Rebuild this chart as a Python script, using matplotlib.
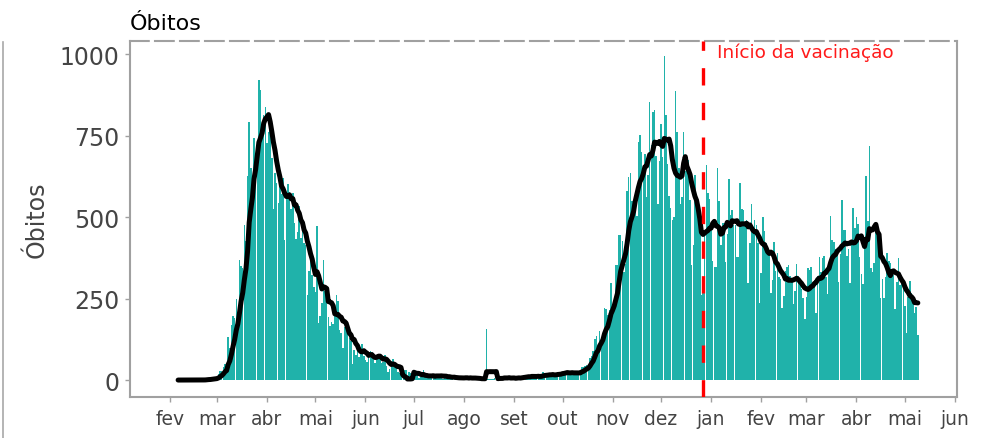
import numpy as np
import pandas as pd
import matplotlib
matplotlib.use("Agg")
import matplotlib.pyplot as plt
import matplotlib.dates as mdates
from matplotlib.lines import Line2D

# ---------------- data (daily deaths) ----------------
start_date = "2020-01-31"
jan_2020 = [0]
feb_2020 = [0, 0, 0, 0, 0, 0, 0, 0, 0, 0, 0, 0, 0, 0, 0, 0, 0, 0, 0, 0,
            1, 1, 1, 4, 3, 2, 5, 4, 8]
mar_2020 = [5, 18, 27, 28, 41, 49, 36, 133, 97, 168, 196, 189, 250, 175, 368, 349,
            345, 475, 427, 627, 793, 651, 601, 743, 683, 712, 919, 889, 756, 812, 837]
apr_2020 = [727, 760, 766, 681, 525, 636, 604, 542, 610, 570, 619, 431, 566, 602, 578,
            525, 575, 482, 433, 454, 534, 437, 464, 420, 415, 260, 333, 382, 323, 285]
may_2020 = [269, 474, 174, 195, 236, 369, 274, 243, 194, 165, 179, 172, 195, 262, 242,
            153, 145, 99, 162, 161, 156, 130, 119, 50, 92, 78, 117, 70, 87, 111, 75]
jun_2020 = [60, 55, 71, 88, 85, 72, 53, 65, 79, 71, 53, 56, 78, 44, 26, 34, 43, 66, 47,
            49, 24, 23, 18, -110, 30, 30, 8, 24, 23, 23]
jul_2020 = [30, 15, 21, 7, 8, 8, 30, 12, 12, 12, 7, 7, 13, 17, 20, 11, 13, 9, 3, 12,
            15, 9, 11, 5, 5, 5, 5, 11, 6, 10, 3]
aug_2020 = [5, 8, 5, 6, 10, 6, 4, 4, 6, 2, 3, 4, 6, 3, 156, 4, 4, 2, 4, 6, 6, 4, 8, 4,
            4, 13, 5, 7, 9, 1, 6]
sep_2020 = [4, 6, 10, 10, 6, 7, 14, 10, 10, 14, 10, 13, 7, 14, 9, 14, 10, 12, 24, 15,
            17, 14, 20, 11, 17, 17, 16, 24, 17, 24]
oct_2020 = [23, 22, 27, 24, 18, 16, 28, 19, 22, 28, 24, 16, 39, 41, 43, 47, 47, 69, 73,
            89, 127, 136, 91, 151, 128, 141, 221, 217, 199, 216, 297]
nov_2020 = [208, 233, 353, 352, 445, 446, 425, 331, 356, 580, 623, 636, 550, 544, 546,
            504, 731, 753, 699, 653, 692, 562, 630, 853, 722, 822, 827, 686, 541, 672]
dec_2020 = [785, 684, 993, 814, 662, 564, 528, 491, 499, 887, 761, 649, 540, 560, 760,
            640, 683, 674, 553, 352, 415, 628, 553, 505, 459, 261, 305, 445, 659, 575, 555]
jan_2021 = [462, 364, 347, 348, 649, 548, 414, 483, 483, 361, 448, 616, 507, 522, 477,
            475, 377, 377, 603, 524, 521, 472, 492, 299, 420, 541, 467, 492, 477, 421, 237]
feb_2021 = [329, 499, 456, 421, 391, 385, 266, 307, 422, 336, 391, 316, 311, 221, 258,
            336, 347, 353, 318, 307, 232, 274, 356, 318, 308, 280, 253, 188]
mar_2021 = [255, 343, 339, 347, 297, 307, 207, 318, 376, 332, 373, 380, 317, 264, 354,
            502, 431, 423, 401, 386, 300, 386, 551, 460, 460, 380, 401, 297, 417, 529, 467]
apr_2021 = [501, 480, 376, 326, 296, 421, 627, 487, 718, 344, 331, 360, 476, 469, 429,
            251, 310, 251, 316, 390, 364, 360, 342, 322, 217, 301, 373, 292, 299, 293]
may_2021 = [226, 144, 256, 305, 267, 258, 207, 224, 139]

vaccination_date = "2020-12-27"
vaccination_label = "Início da vacinação"
title = "Óbitos"
y_label = "Óbitos"
y_ticks = [0, 250, 500, 750, 1000]
month_ticks = pd.date_range("2020-02-01", "2021-06-01", freq="MS")
month_labels = ["fev", "mar", "abr", "mai", "jun", "jul", "ago", "set", "out",
                "nov", "dez", "jan", "fev", "mar", "abr", "mai", "jun"]

deaths = np.array(jan_2020 + feb_2020 + mar_2020 + apr_2020 + may_2020 + jun_2020
                  + jul_2020 + aug_2020 + sep_2020 + oct_2020 + nov_2020 + dec_2020
                  + jan_2021 + feb_2021 + mar_2021 + apr_2021 + may_2021, dtype=float)
dates = pd.date_range(start_date, periods=len(deaths), freq="D")
series = pd.Series(deaths, index=dates)
avg7 = series.rolling(7).mean()

# ---------------- figure ----------------
W, H = 997, 439
fig = plt.figure(figsize=(W / 100, H / 100), dpi=100)
L, R, T, B = 130, 957, 42, 398
ax = fig.add_axes([L / W, 1 - B / H, (R - L) / W, (B - T) / H])

xd = mdates.date2num(dates)
ax.bar(xd, np.clip(deaths, 0, None), width=0.93, color="#20B2AA", linewidth=0,
       antialiased=False, zorder=2)
ax.plot(mdates.date2num(avg7.index), avg7.values, color="black", lw=3.6,
        solid_capstyle="round", solid_joinstyle="round", zorder=3)

vx = mdates.date2num(pd.Timestamp(vaccination_date))
ax.axvline(vx, color="#ff0000", lw=2.4, linestyle=(0, (5.2, 5.2)), zorder=4)
ax.text(vx + 8.5, 1008, vaccination_label, color="#ff1a1a", fontsize=13.3,
        ha="left", va="center", zorder=5)

ax.set_xlim(mdates.date2num(pd.Timestamp("2020-01-07 05:00")),
            mdates.date2num(pd.Timestamp("2021-06-02 06:00")))
ax.set_ylim(-52, 1040)

ax.set_yticks(y_ticks)
ax.set_yticklabels([str(v) for v in y_ticks])
ax.set_xticks(mdates.date2num(month_ticks))
ax.set_xticklabels(month_labels)

gray = "#a0a0a0"
ax.tick_params(axis="y", length=3.6, width=1.0, color=gray, labelsize=17,
               labelcolor="#444444", pad=4)
ax.tick_params(axis="x", length=3.6, width=1.0, color=gray, labelsize=13.5,
               labelcolor="#444444", pad=5)

for side in ["left", "bottom", "right"]:
    ax.spines[side].set_color(gray)
    ax.spines[side].set_linewidth(1.5)
ax.spines["top"].set_color(gray)
ax.spines["top"].set_linewidth(1.5)
ax.spines["top"].set_linestyle((0, (9, 3)))

ax.set_title(title, loc="left", fontsize=16, color="black", pad=9)
fig.text(37 / W, 1 - 220 / H, y_label, rotation=90, ha="center", va="center",
         fontsize=17, color="#444444")

fig.add_artist(Line2D([3.3 / W, 3.3 / W], [0, 1 - 43 / H], transform=fig.transFigure,
                      color="#a8a8a8", lw=1.2))

fig.savefig("out.png", dpi=100)
